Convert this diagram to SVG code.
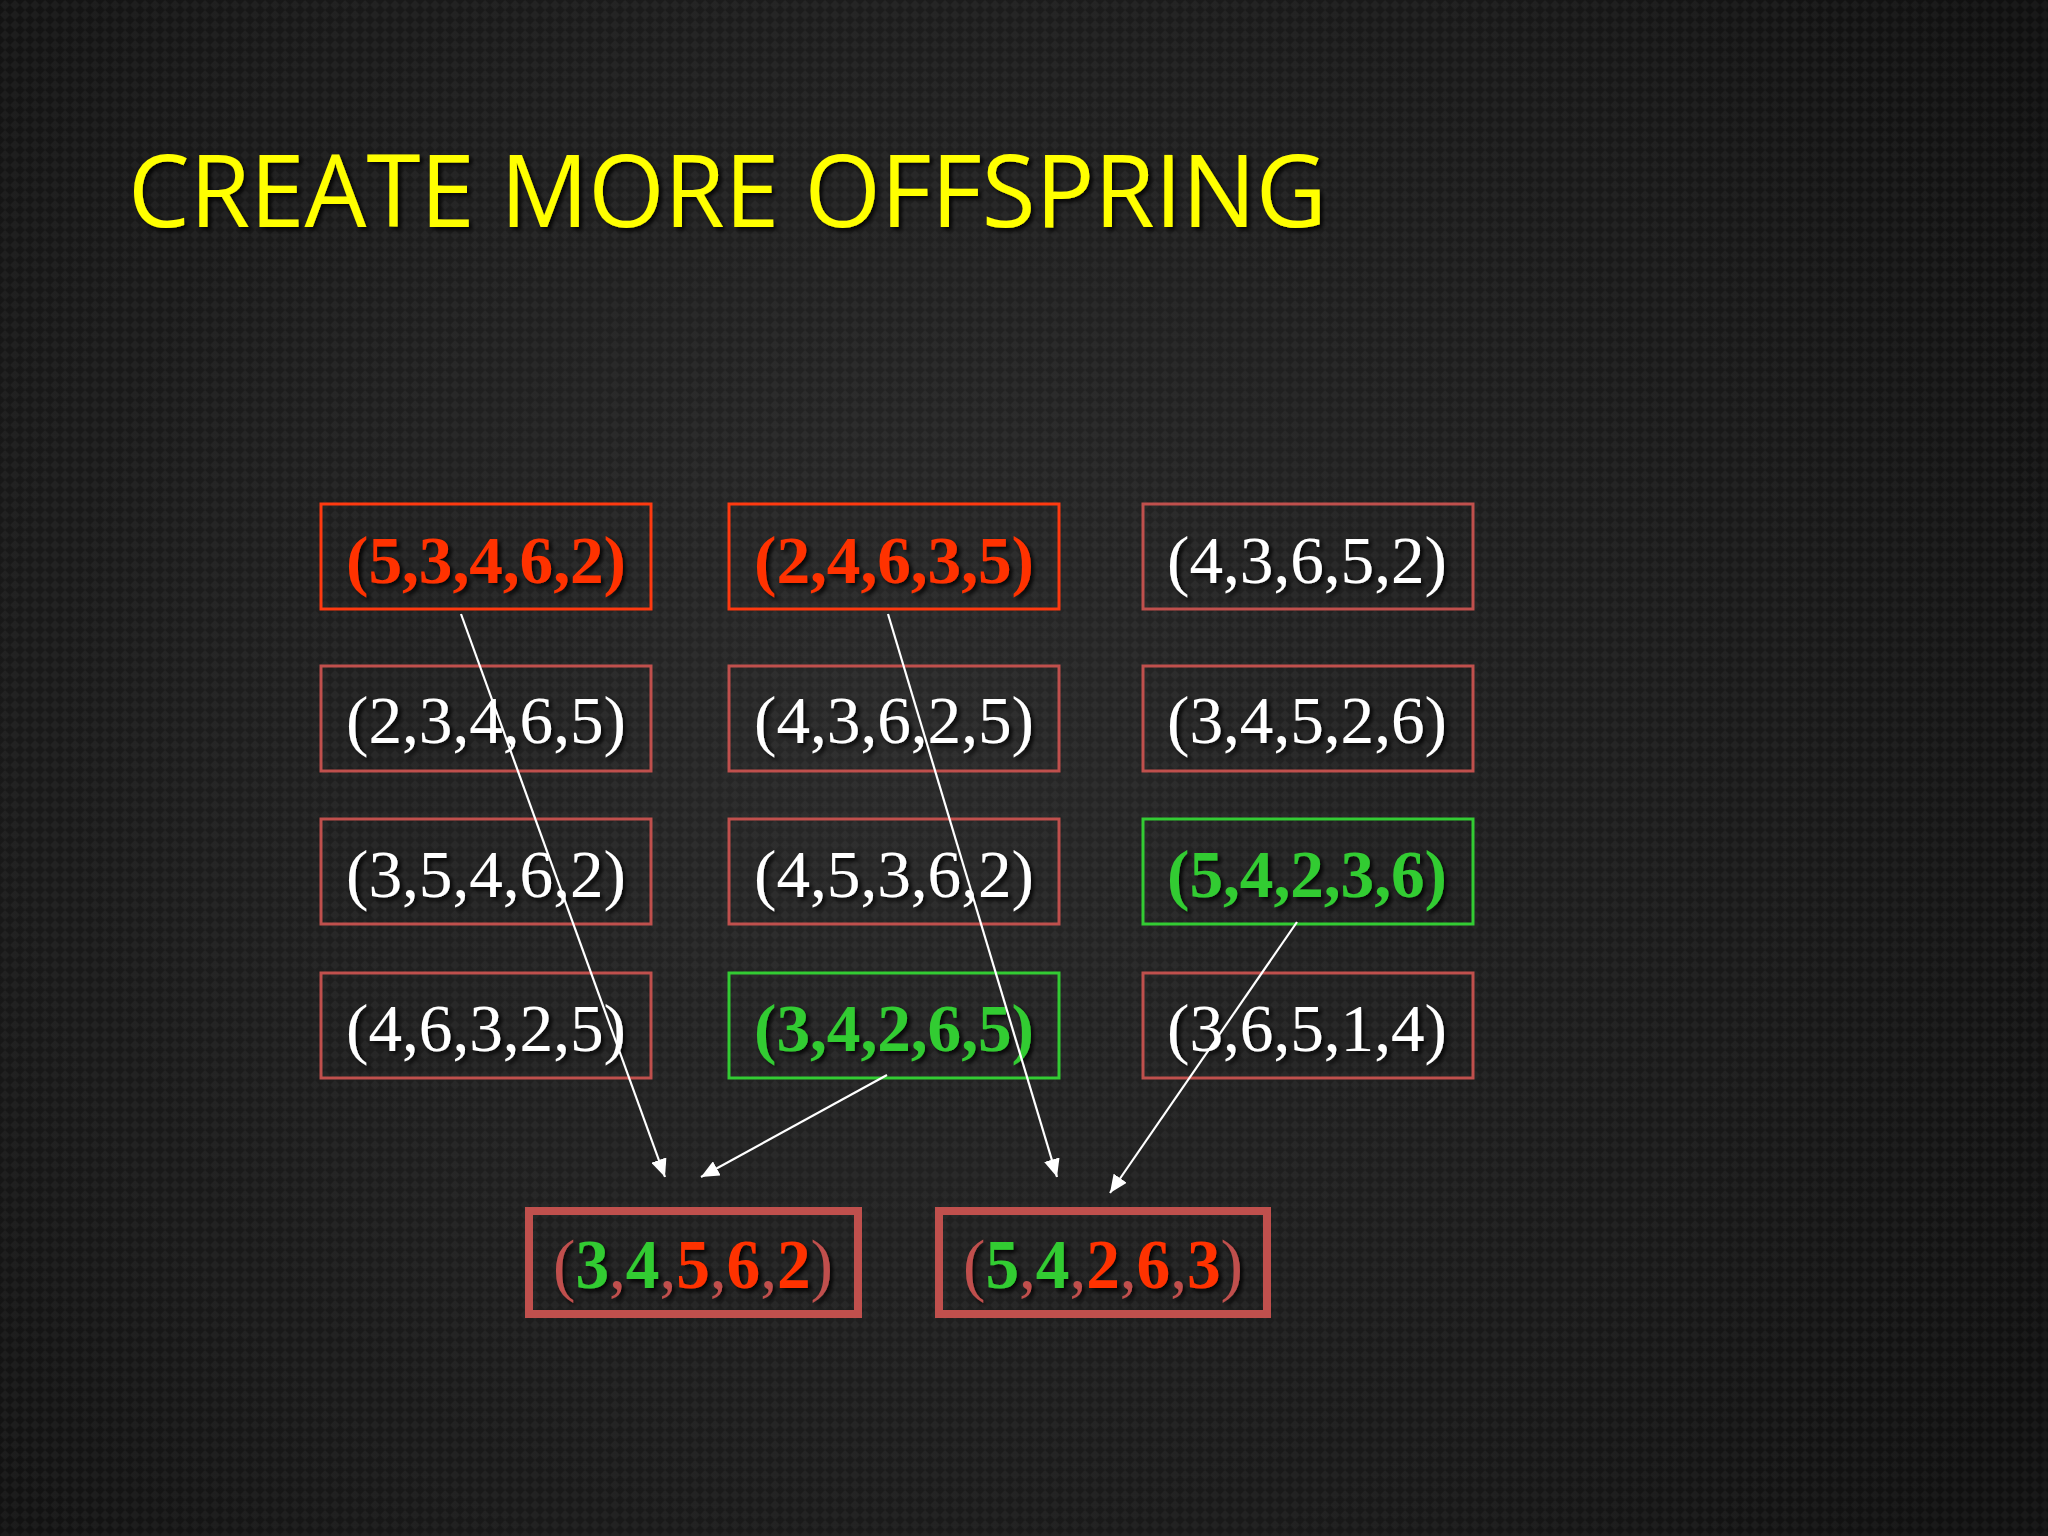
<svg xmlns="http://www.w3.org/2000/svg" width="2048" height="1536" viewBox="0 0 2048 1536">
  <defs>
    <radialGradient id="bg" cx="900" cy="720" r="1300" gradientUnits="userSpaceOnUse">
      <stop offset="0" stop-color="#2e2e2e"/>
      <stop offset="0.55" stop-color="#202020"/>
      <stop offset="1" stop-color="#121212"/>
    </radialGradient>
    <pattern id="tex" width="10" height="10" patternUnits="userSpaceOnUse">
      <rect width="10" height="10" fill="#000" fill-opacity="0.12"/>
      <path d="M0,5 L5,0 L10,5 L5,10 Z" fill="#ffffff" fill-opacity="0.04"/>
    </pattern>
    <filter id="sh" x="-10%" y="-20%" width="120%" height="150%">
      <feDropShadow dx="3" dy="3" stdDeviation="2" flood-color="#000" flood-opacity="0.85"/>
    </filter>
    <marker id="arr" viewBox="0 0 18 16" refX="18" refY="8" markerWidth="18" markerHeight="16" markerUnits="userSpaceOnUse" orient="auto">
      <path d="M0,0 L18,8 L0,16 Z" fill="#ffffff"/>
    </marker>
    <style>
      .box { fill: none; stroke: #c0504d; stroke-width: 3; }
      .boxr { fill: none; stroke: #ff3a10; stroke-width: 3; }
      .boxg { fill: none; stroke: #33cc33; stroke-width: 3; }
      .boxo { fill: none; stroke: #c0504d; stroke-width: 8; }
      .t { font-family: "Liberation Serif", "Times New Roman", serif; font-size: 67px; text-anchor: middle; filter: url(#sh); }
      .tw { fill: #ffffff; }
      .tr { fill: #ff3300; font-weight: bold; }
      .tg { fill: #33cc33; font-weight: bold; }
      .to { font-size: 70px; fill: #c0504d; }
      .dg { fill: #33cc33; font-weight: bold; }
      .dr { fill: #ff3300; font-weight: bold; }
      .title { font-family: "Open Sans", "Noto Sans", sans-serif; font-size: 101px; fill: #ffff00; filter: url(#sh); }
      .conn { stroke: #ffffff; stroke-width: 2.2; fill: none; marker-end: url(#arr); }
    </style>
  </defs>

  <rect width="2048" height="1536" fill="url(#bg)"/>
  <rect width="2048" height="1536" fill="url(#tex)"/>

  <text class="title" x="128" y="227" textLength="1199" lengthAdjust="spacingAndGlyphs">CREATE MORE OFFSPRING</text>

  <g id="n-r1c1"><rect class="boxr" x="321" y="504" width="330" height="105"/><text class="t tr" x="486" y="583" textLength="280" lengthAdjust="spacingAndGlyphs">(5,3,4,6,2)</text></g>
  <g id="n-r1c2"><rect class="boxr" x="729" y="504" width="330" height="105"/><text class="t tr" x="894" y="583" textLength="280" lengthAdjust="spacingAndGlyphs">(2,4,6,3,5)</text></g>
  <g id="n-r1c3"><rect class="box" x="1143" y="504" width="330" height="105"/><text class="t tw" x="1307" y="583" textLength="280" lengthAdjust="spacingAndGlyphs">(4,3,6,5,2)</text></g>

  <g id="n-r2c1"><rect class="box" x="321" y="666" width="330" height="105"/><text class="t tw" x="486" y="743" textLength="280" lengthAdjust="spacingAndGlyphs">(2,3,4,6,5)</text></g>
  <g id="n-r2c2"><rect class="box" x="729" y="666" width="330" height="105"/><text class="t tw" x="894" y="743" textLength="280" lengthAdjust="spacingAndGlyphs">(4,3,6,2,5)</text></g>
  <g id="n-r2c3"><rect class="box" x="1143" y="666" width="330" height="105"/><text class="t tw" x="1307" y="743" textLength="280" lengthAdjust="spacingAndGlyphs">(3,4,5,2,6)</text></g>

  <g id="n-r3c1"><rect class="box" x="321" y="819" width="330" height="105"/><text class="t tw" x="486" y="897" textLength="280" lengthAdjust="spacingAndGlyphs">(3,5,4,6,2)</text></g>
  <g id="n-r3c2"><rect class="box" x="729" y="819" width="330" height="105"/><text class="t tw" x="894" y="897" textLength="280" lengthAdjust="spacingAndGlyphs">(4,5,3,6,2)</text></g>
  <g id="n-r3c3"><rect class="boxg" x="1143" y="819" width="330" height="105"/><text class="t tg" x="1307" y="897" textLength="280" lengthAdjust="spacingAndGlyphs">(5,4,2,3,6)</text></g>

  <g id="n-r4c1"><rect class="box" x="321" y="973" width="330" height="105"/><text class="t tw" x="486" y="1051" textLength="280" lengthAdjust="spacingAndGlyphs">(4,6,3,2,5)</text></g>
  <g id="n-r4c2"><rect class="boxg" x="729" y="973" width="330" height="105"/><text class="t tg" x="894" y="1051" textLength="280" lengthAdjust="spacingAndGlyphs">(3,4,2,6,5)</text></g>
  <g id="n-r4c3"><rect class="box" x="1143" y="973" width="330" height="105"/><text class="t tw" x="1307" y="1051" textLength="280" lengthAdjust="spacingAndGlyphs">(3,6,5,1,4)</text></g>

  <g id="n-child1"><rect class="boxo" x="529" y="1211" width="329" height="103"/><text class="t to" x="693" y="1288" textLength="280" lengthAdjust="spacingAndGlyphs">(<tspan class="dg">3</tspan>,<tspan class="dg">4</tspan>,<tspan class="dr">5</tspan>,<tspan class="dr">6</tspan>,<tspan class="dr">2</tspan>)</text></g>
  <g id="n-child2"><rect class="boxo" x="939" y="1211" width="328" height="103"/><text class="t to" x="1103" y="1288" textLength="280" lengthAdjust="spacingAndGlyphs">(<tspan class="dg">5</tspan>,<tspan class="dg">4</tspan>,<tspan class="dr">2</tspan>,<tspan class="dr">6</tspan>,<tspan class="dr">3</tspan>)</text></g>

  <g id="connectors">
    <line class="conn" x1="461" y1="614" x2="665" y2="1177"/>
    <line class="conn" x1="887" y1="1075" x2="701" y2="1177"/>
    <line class="conn" x1="888" y1="614" x2="1057" y2="1177"/>
    <line class="conn" x1="1297" y1="922" x2="1110" y2="1193"/>
  </g>
</svg>
